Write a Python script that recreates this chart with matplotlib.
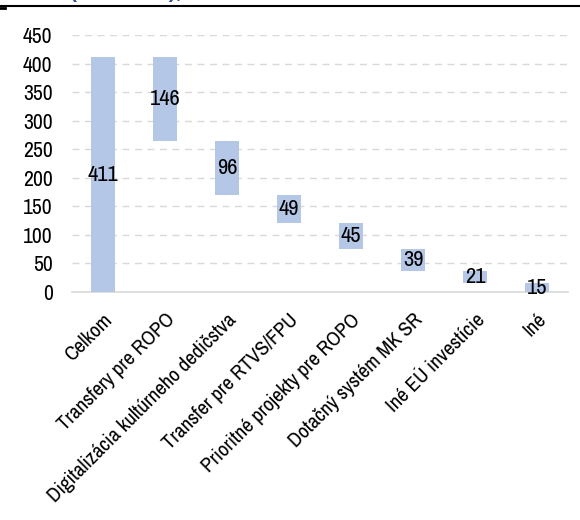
import matplotlib
matplotlib.use("Agg")
import matplotlib.pyplot as plt
from matplotlib import font_manager
import numpy as np

categories = ["Celkom", "Transfery pre ROPO", "Digitalizácia kultúrneho dedičstva",
              "Transfer pre RTVS/FPU", "Prioritné projekty pre ROPO",
              "Dotačný systém MK SR", "Iné EÚ investície", "Iné"]
values = [411, 146, 96, 49, 45, 39, 21, 15]
yticks = [0, 50, 100, 150, 200, 250, 300, 350, 400, 450]

available = {f.name for f in font_manager.fontManager.ttflist}
prefs = ['Arial Narrow', 'Liberation Sans Narrow', 'Archivo Narrow', 'PT Sans Narrow',
         'Roboto Condensed', 'Liberation Sans']
chosen = next(p for p in prefs if p in available)
narrow = chosen != 'Liberation Sans'
k = 1.2 if narrow else 1.0
plt.rcParams['font.family'] = [chosen, 'Liberation Sans', 'DejaVu Sans']

# waterfall bottoms
bottoms = [0]
level = values[0]
for v in values[1:]:
    level -= v
    bottoms.append(level)

fig = plt.figure(figsize=(5.8, 5.2), dpi=100)
ax = fig.add_axes([72/580, 1-292/520, (568-72)/580, (292-35)/520])

x = np.arange(len(categories))
bar_color = "#B4C7E7"
ax.bar(x, values, bottom=bottoms, width=0.4, color=bar_color, zorder=3)
for xi, v, b in zip(x, values, bottoms):
    ax.text(xi, b + v/2, str(v), ha="center", va="center", fontsize=13.5*k,
            color="black", zorder=4)

ax.set_xlim(-0.5, len(categories) - 0.5)
ax.set_ylim(0, 450)
ax.set_yticks(yticks)
ax.set_yticklabels([str(t) for t in yticks], fontsize=13*k)
ax.set_xticks(x)
ax.set_xticklabels(categories, rotation=45, ha="right", rotation_mode="anchor",
                   fontsize=12.5*k)
ax.tick_params(axis="y", length=0, pad=14)
ax.tick_params(axis="x", length=0, pad=13)
ax.yaxis.grid(True, linestyle=(0, (5, 4)), color="#D9D9D9", linewidth=1, zorder=0)
for s in ["left", "right", "top"]:
    ax.spines[s].set_visible(False)
ax.spines["bottom"].set_color("#D9D9D9")
ax.spines["bottom"].set_linewidth(1.2)

# top rule and clipped title
fig.add_artist(plt.Line2D([0, 1], [1-5.5/520, 1-5.5/520], color="black", linewidth=1.5,
                          transform=fig.transFigure))
fig.add_artist(plt.Line2D([0, 5/580], [1-8/520, 1-8/520], color="black", linewidth=2,
                          transform=fig.transFigure))
fig.text(70/580, 1+8/520, "(v mil. eur),", color="#2F5597", fontsize=15,
         ha="left", va="center", fontweight="bold", family="Liberation Sans")

fig.savefig("out.png", dpi=100)
